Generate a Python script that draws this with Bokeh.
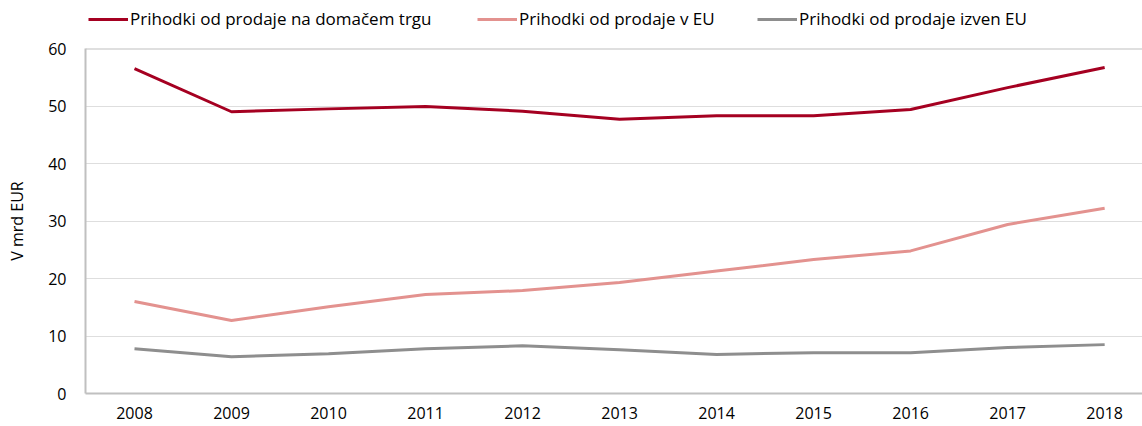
from bokeh.plotting import figure
from bokeh.layouts import column
from bokeh.models import Legend, LegendItem, Span, FixedTicker, Range1d
from bokeh.embed import file_html
from bokeh.resources import INLINE

years = [2008, 2009, 2010, 2011, 2012, 2013, 2014, 2015, 2016, 2017, 2018]
domestic = [56.5, 49.0, 49.5, 49.9, 49.1, 47.7, 48.3, 48.3, 49.4, 53.2, 56.7]
eu = [16.0, 12.7, 15.1, 17.2, 17.9, 19.3, 21.3, 23.3, 24.8, 29.4, 32.2]
non_eu = [7.8, 6.4, 6.9, 7.8, 8.3, 7.6, 6.8, 7.1, 7.1, 8.0, 8.5]
names = ["Prihodki od prodaje na domačem trgu", "Prihodki od prodaje v EU", "Prihodki od prodaje izven EU"]
colors = ["#A50021", "#E3928F", "#8E8E8E"]
y_ticks = [0, 10, 20, 30, 40, 50, 60]

FONT = "Open Sans"
W = 1142
TOP_H = 30
LEFT = 85

# ---- legend strip (frame is aligned with the main chart's frame) ----
lp = figure(width=W, height=TOP_H, output_backend="svg", toolbar_location=None,
            x_range=Range1d(2007.495, 2018.39), y_range=Range1d(0, 60),
            x_axis_location=None, y_axis_location=None,
            min_border_left=LEFT, min_border_right=0, min_border_top=0, min_border_bottom=0)
lp.outline_line_color = None
lp.xgrid.grid_line_color = None
lp.ygrid.grid_line_color = None
legend_refs = []
for vals, c in zip([domestic, eu, non_eu], colors):
    legend_refs.append(lp.line(years, vals, line_color=c, line_width=3, visible=False))
xs = [88 - LEFT, 477 - LEFT, 757 - LEFT]
for name, r, x in zip(names, legend_refs, xs):
    lg = Legend(items=[LegendItem(label=name, renderers=[r])], location=(x, 0),
                orientation="horizontal", border_line_color=None, background_fill_alpha=0,
                padding=0, margin=0, glyph_width=40, glyph_height=20, label_standoff=2,
                label_text_font=FONT, label_text_font_size="17px", label_height=20,
                label_text_color="#000000", click_policy="none")
    lp.add_layout(lg, "center")

# ---- main chart ----
p = figure(width=W, height=426 - TOP_H, output_backend="svg", toolbar_location=None,
           x_range=Range1d(2007.495, 2018.39), y_range=Range1d(0, 60),
           min_border_left=LEFT, min_border_right=0, min_border_top=18, min_border_bottom=33)
p.outline_line_color = None
p.background_fill_color = "white"
p.border_fill_color = "white"

for vals, c in zip([domestic, eu, non_eu], colors):
    p.line(years, vals, line_color=c, line_width=3)

p.xaxis.ticker = FixedTicker(ticks=years)
p.yaxis.ticker = FixedTicker(ticks=y_ticks)
for ax in (p.xaxis[0], p.yaxis[0]):
    ax.axis_line_color = "#C0C0C0"
    ax.axis_line_width = 2
    ax.major_tick_line_color = None
    ax.minor_tick_line_color = None
    ax.major_label_text_font = FONT
    ax.major_label_text_font_size = "16px"
    ax.major_label_text_color = "#000000"
p.xaxis.major_label_standoff = 7
p.yaxis.major_label_standoff = 13
p.yaxis.axis_label = "V mrd EUR"
p.yaxis.axis_label_text_font = FONT
p.yaxis.axis_label_text_font_size = "16px"
p.yaxis.axis_label_text_font_style = "normal"
p.yaxis.axis_label_text_color = "#000000"
p.yaxis.axis_label_standoff = 17

p.xgrid.grid_line_color = None
p.ygrid.grid_line_color = "#BDBDBD"
p.ygrid.grid_line_dash = "1 1"
p.ygrid.grid_line_width = 1

p.add_layout(Span(location=60, dimension="width", line_color="#C0C0C0", line_width=2))

layout = column(lp, p, spacing=0)
open("out.html", "w").write(file_html(layout, INLINE))
